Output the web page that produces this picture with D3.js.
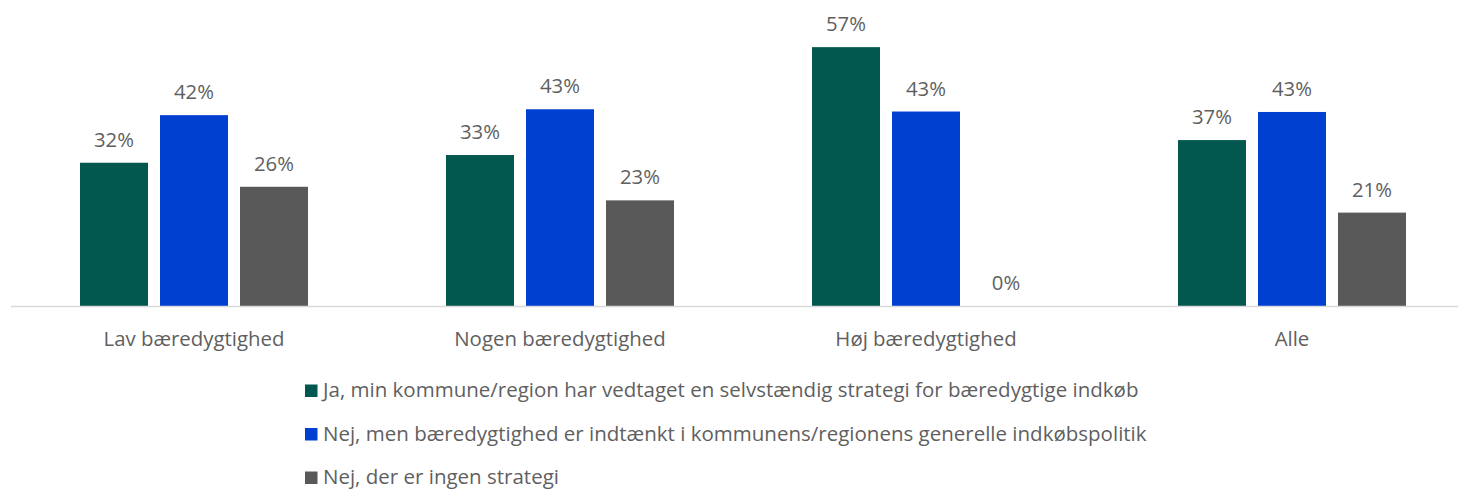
<!DOCTYPE html>
<html lang="da">
<head>
  <meta charset="utf-8">
  <title>Strategi for bæredygtige indkøb</title>
  <script src="https://d3js.org/d3.v7.min.js"></script>
  <style>
    body { margin: 0; background: #fff; }
    text { font-family: "Open Sans", "Noto Sans", sans-serif; fill: #5f5f5f; }
  </style>
</head>
<body>
  <div id="chart"></div>
  <script>
    // categories and series
    const categories = ["Lav bæredygtighed", "Nogen bæredygtighed", "Høj bæredygtighed", "Alle"];
    const seriesNames = [
      "Ja, min kommune/region har vedtaget en selvstændig strategi for bæredygtige indkøb",
      "Nej, men bæredygtighed er indtænkt i kommunens/regionens generelle indkøbspolitik",
      "Nej, der er ingen strategi"
    ];
    const colors = ["#02574f", "#0040d0", "#595959"];

    // values in percent, one array per series (same order as categories)
    const jaStrategi = [31.6, 33.3, 57.1, 36.6];
    const nejIndtaenkt = [42.1, 43.4, 42.9, 42.8];
    const nejIngen = [26.3, 23.3, 0, 20.6];
    const seriesValues = [jaStrategi, nejIndtaenkt, nejIngen];

    const width = 1458, height = 489;
    const baseY = 306;

    const svg = d3.select("#chart")
      .append("svg")
        .attr("width", width)
        .attr("height", height);

    // outer scale: one band per category
    const x0 = d3.scaleBand()
      .domain(categories)
      .range([11, 1475]);

    // inner scale: bars inside each category
    const x1 = d3.scaleBand()
      .domain(d3.range(seriesNames.length))
      .range([69, 297])
      .paddingInner(0.15);

    const y = d3.scaleLinear()
      .domain([0, 60])
      .range([baseY, 34]);

    const groups = svg.selectAll("g.cat")
      .data(categories)
      .join("g")
        .attr("class", "cat")
        .attr("transform", d => `translate(${x0(d)},0)`);

    groups.selectAll("rect")
      .data((d, i) => seriesValues.map((vals, s) => ({s: s, v: vals[i]})))
      .join("rect")
        .attr("x", d => x1(d.s))
        .attr("y", d => y(d.v))
        .attr("width", x1.bandwidth())
        .attr("height", d => baseY - y(d.v))
        .attr("fill", d => colors[d.s]);

    // data labels
    groups.selectAll("text.lbl")
      .data((d, i) => seriesValues.map((vals, s) => ({s: s, v: vals[i]})))
      .join("text")
        .attr("class", "lbl")
        .attr("x", d => x1(d.s) + x1.bandwidth() / 2)
        .attr("y", d => y(d.v) - 16)
        .attr("text-anchor", "middle")
        .style("font-size", "20.3px")
        .text(d => Math.round(d.v) + "%");

    // baseline
    svg.append("line")
      .attr("x1", 11)
      .attr("x2", width)
      .attr("y1", baseY + 0.5)
      .attr("y2", baseY + 0.5)
      .attr("stroke", "#d9d9d9")
      .attr("stroke-width", 1.5);

    // category labels
    svg.selectAll("text.cat")
      .data(categories)
      .join("text")
        .attr("class", "cat")
        .attr("x", d => x0(d) + x0.bandwidth() / 2)
        .attr("y", 346)
        .attr("text-anchor", "middle")
        .style("font-size", "20.4px")
        .text(d => d);

    // legend
    const legend = svg.selectAll("g.leg")
      .data(seriesNames)
      .join("g")
        .attr("class", "leg")
        .attr("transform", (d, i) => `translate(305,${397 + i * 43.5})`);

    legend.append("rect")
      .attr("x", 0)
      .attr("y", -12.5)
      .attr("width", 12.5)
      .attr("height", 12.5)
      .attr("fill", (d, i) => colors[i]);

    legend.append("text")
      .attr("x", 18)
      .attr("y", 0)
      .style("font-size", "20.5px")
      .text(d => d);
  </script>
</body>
</html>
